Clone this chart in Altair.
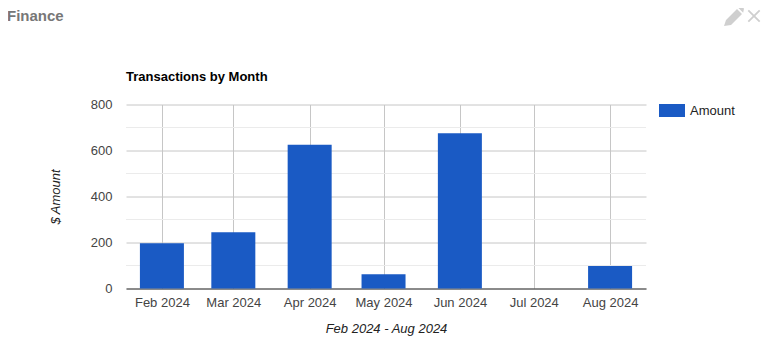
import altair as alt
import pandas as pd

months = ["2024-02-01", "2024-03-01", "2024-04-01", "2024-05-01", "2024-06-01", "2024-07-01", "2024-08-01"]
amounts = [197, 245, 625, 62, 675, 0, 98]
series = ["Amount"] * 7
major_ticks = [0, 200, 400, 600, 800]
minor_ticks = [100, 300, 500, 700]
x_domain = ["2024-01-17T10:00:00Z", "2024-08-15T14:00:00Z"]

FONT = "Liberation Sans"
BLUE = "#1a5ac4"

df = pd.DataFrame({"month": [m + "T00:00:00Z" for m in months], "amount": amounts, "series": series})
minor_df = pd.DataFrame({"v": minor_ticks})

yscale = alt.Scale(domain=[0, 800], nice=False)
xscale = alt.Scale(type="utc", domain=x_domain, nice=False, padding=0)

y_axis = alt.Axis(
    values=major_ticks, title="$ Amount", titleFont=FONT, titleFontSize=13, titleFontStyle="italic",
    titleFontWeight="normal", titleColor="#222", titlePadding=28,
    labelFont=FONT, labelFontSize=13, labelColor="#444", labelPadding=14,
    ticks=False, grid=True, gridColor="#c6c6c6", domain=False,
)

minor = alt.Chart(minor_df).mark_rule(color="#ebebeb", strokeWidth=1).encode(
    y=alt.Y("v:Q", scale=yscale, axis=y_axis)
)

bars = alt.Chart(df).mark_bar(size=44).encode(
    x=alt.X(
        "month:T", scale=xscale,
        axis=alt.Axis(
            values=[m + "T00:00:00Z" for m in months],
            labelExpr="utcFormat(datum.value, '%b %Y')",
            title="Feb 2024 - Aug 2024", titleFont=FONT, titleFontSize=13, titleFontStyle="italic",
            titleFontWeight="normal", titleColor="#222", titlePadding=13,
            labelFont=FONT, labelFontSize=13, labelColor="#444", labelPadding=8, labelFlush=False,
            labelOverlap=False, ticks=False, grid=True, gridColor="#c6c6c6", domainColor="#333", domainWidth=1,
        ),
    ),
    y=alt.Y("amount:Q", scale=yscale, axis=y_axis),
    color=alt.Color(
        "series:N", scale=alt.Scale(range=[BLUE]),
        legend=alt.Legend(
            title=None, orient="none", legendX=533, legendY=-7,
            symbolType="M-1,-0.5H1V0.5H-1Z", symbolSize=676, symbolStrokeWidth=0, symbolOpacity=1,
            labelFont=FONT, labelFontSize=13, labelColor="#222", labelOffset=5,
        ),
    ),
)

chart_title = alt.Chart(pd.DataFrame({"t": ["Transactions by Month"]})).mark_text(
    font=FONT, fontSize=13, fontWeight="bold", color="#000", align="left", baseline="middle"
).encode(text="t:N", x=alt.value(0), y=alt.value(-28))

card = alt.Chart(pd.DataFrame({"t": ["Finance"]})).mark_text(
    font=FONT, fontSize=15, fontWeight="bold", color="#777", align="left", baseline="middle"
).encode(text="t:N", x=alt.value(-119), y=alt.value(-89))

pencil = alt.Chart(pd.DataFrame({"t": ["edit"]})).mark_point(
    shape="M-1,1 L-0.8,0.4 L0.3,-0.7 L0.8,-0.2 L-0.3,0.9 Z M0.42,-0.82 L0.62,-1 L0.85,-0.95 L1,-0.72 L0.95,-0.5 L0.92,-0.32 Z",
    size=400, filled=True, color="#cfcfcf", opacity=1,
).encode(x=alt.value(608), y=alt.value(-88.5))

close = alt.Chart(pd.DataFrame({"t": ["close"]})).mark_point(
    shape="M-1,-0.8 L-0.8,-1 L0,-0.2 L0.8,-1 L1,-0.8 L0.2,0 L1,0.8 L0.8,1 L0,0.2 L-0.8,1 L-1,0.8 L-0.2,0 Z",
    size=160, filled=True, color="#cfcfcf", opacity=1,
).encode(x=alt.value(628), y=alt.value(-88.5))

chart = alt.layer(minor, bars, chart_title, card, pencil, close).properties(
    width=520, height=184,
    padding={"left": 118, "top": 96.5, "right": 119, "bottom": 60},
    autosize=alt.AutoSizeParams(type="none"),
).configure_view(stroke=None)

chart.save("out.html", embed_options={"renderer": "svg", "actions": False})
